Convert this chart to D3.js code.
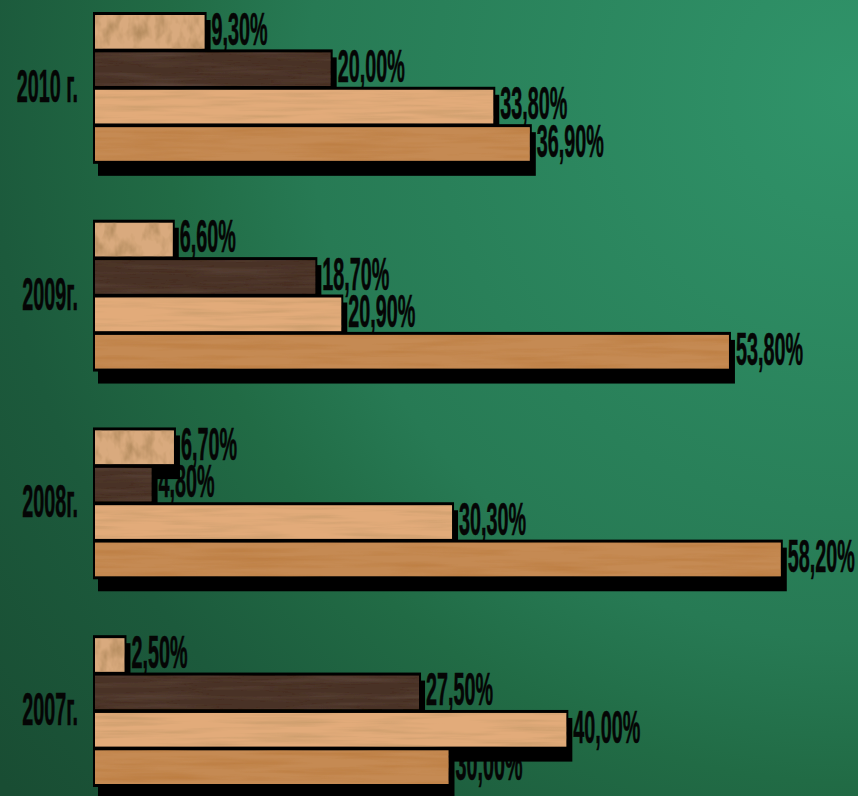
<!DOCTYPE html>
<html>
<head>
<meta charset="utf-8">
<script src="https://cdn.jsdelivr.net/npm/d3@7"></script>
<style>
  html, body { margin: 0; padding: 0; background: #1d5a3c; }
  svg { display: block; }
  .lbl { font-family: "Liberation Sans", Arial, sans-serif; font-weight: bold; fill: #050505; stroke: #050505; stroke-width: 0.6; }
</style>
</head>
<body>
<svg id="chart" width="858" height="796"></svg>
<script>
// ---- data ----
const categories = ["2010 г.", "2009г.", "2008г.", "2007г."];
const seriesNames = ["s1", "s2", "s3", "s4"];
const series1 = [9.3, 6.6, 6.7, 2.5];
const series2 = [20.0, 18.7, 4.8, 27.5];
const series3 = [33.8, 20.9, 30.3, 40.0];
const series4 = [36.9, 53.8, 58.2, 30.0];
const seriesValues = [series1, series2, series3, series4];
const valueDomain = [0, 60];

// ---- styles ----
const W = 858, H = 796;
const baseColors = ["#d9aa7e", "#4a3227", "#e2ab7a", "#c58a53"];
const grainFreq = ["0.09 0.05", "0.01 0.18", "0.012 0.2", "0.01 0.16"];
const grainTint = [
  [0.42, 0.24, 0.1], [0.12, 0.07, 0.05], [0.55, 0.32, 0.14], [0.5, 0.2, 0.05]
];
const grainAlpha = [1.0, 0.6, 0.75, 0.9];
const fontSize = 46, sx = 0.43;

const svg = d3.select("#chart");
const defs = svg.append("defs");

const rg = defs.append("radialGradient").attr("id", "bg")
  .attr("gradientUnits", "userSpaceOnUse")
  .attr("cx", 858).attr("cy", 90).attr("r", 1100);
[[0, "#30946a"], [0.5, "#277a54"], [0.63, "#216b45"], [0.79, "#1c5a3c"], [1, "#194d33"]]
  .forEach(([o, c]) => rg.append("stop").attr("offset", o).attr("stop-color", c));

seriesNames.forEach((s, i) => {
  const f = defs.append("filter").attr("id", "grain" + i)
    .attr("x", 0).attr("y", 0).attr("width", 1).attr("height", 1);
  f.append("feTurbulence").attr("type", "fractalNoise")
    .attr("baseFrequency", grainFreq[i]).attr("numOctaves", 3).attr("seed", 3 + i).attr("result", "n");
  const t = grainTint[i];
  f.append("feColorMatrix").attr("in", "n").attr("type", "matrix")
    .attr("values", `0 0 0 0 ${t[0]}  0 0 0 0 ${t[1]}  0 0 0 0 ${t[2]}  ${grainAlpha[i] * 2} 0 0 0 ${-grainAlpha[i] * 0.85}`)
    .attr("result", "tint");
  f.append("feComposite").attr("in", "tint").attr("in2", "SourceGraphic").attr("operator", "in").attr("result", "t2");
  const m = f.append("feMerge");
  m.append("feMergeNode").attr("in", "SourceGraphic");
  m.append("feMergeNode").attr("in", "t2");
});

svg.append("rect").attr("width", W).attr("height", H).attr("fill", "url(#bg)");

// ---- scales ----
const x = d3.scaleLinear().domain(valueDomain).range([95, 802]);
const y0 = d3.scaleBand().domain(categories).range([15, 784]).paddingInner(0.298).paddingOuter(0);
const y1 = d3.scaleBand().domain(d3.range(seriesNames.length)).range([0, y0.bandwidth()]).paddingInner(0.1);
const h = y1.bandwidth();
const fmt = v => d3.format(".2f")(v).replace(".", ",") + "%";

const rows = [];
categories.forEach((c, ci) => {
  seriesValues.forEach((vals, si) => {
    rows.push({ cat: c, si, v: vals[ci], y: y0(c) + y1(si), x0: x(0), x1: x(vals[ci]) });
  });
});

// category labels
svg.append("g").selectAll("text").data(categories).join("text")
  .attr("class", "lbl")
  .attr("font-size", fontSize)
  .attr("text-anchor", "end")
  .attr("transform", d => `translate(78,${y0(d) + y0.bandwidth() / 2 + 14}) scale(${sx},1)`)
  .text(d => d);

// value labels (underneath shadows)
svg.append("g").selectAll("text").data(rows).join("text")
  .attr("class", "lbl")
  .attr("font-size", fontSize)
  .attr("transform", d => `translate(${d.x1 + 7},${d.y + h - 4}) scale(${sx},1)`)
  .text(d => fmt(d.v));

// shadows
const gs = svg.append("g");
gs.selectAll("rect.out").data(rows).join("rect").attr("class", "out")
  .attr("x", d => d.x0 - 2).attr("y", d => d.y - 3)
  .attr("width", d => d.x1 - d.x0 + 4).attr("height", h + 6).attr("fill", "#000");
gs.selectAll("rect.sh").data(rows).join("rect").attr("class", "sh")
  .attr("x", d => d.x0 + 3).attr("y", d => d.y + 5)
  .attr("width", d => d.x1 - d.x0 + 3).attr("height", h + 10).attr("fill", "#000");

// bars
svg.append("g").selectAll("rect").data(rows).join("rect")
  .attr("x", d => d.x0).attr("y", d => d.y)
  .attr("width", d => d.x1 - d.x0).attr("height", h)
  .attr("fill", d => baseColors[d.si])
  .attr("filter", d => `url(#grain${d.si})`);
</script>
</body>
</html>
